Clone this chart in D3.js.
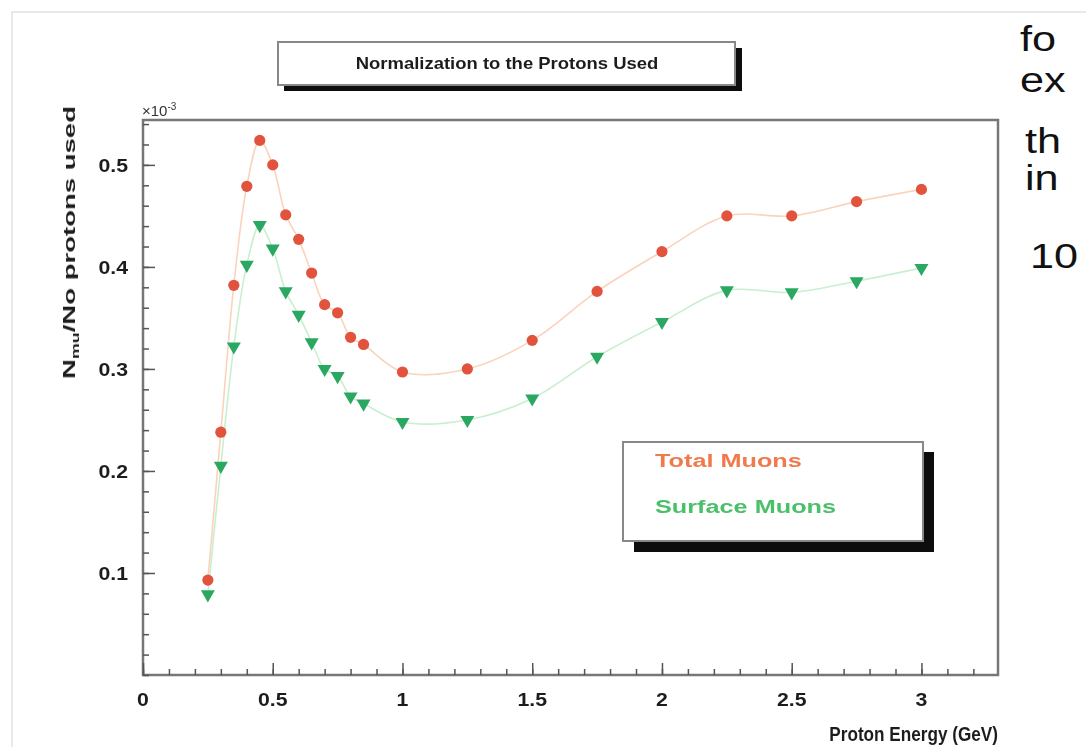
<!DOCTYPE html>
<html>
<head>
<meta charset="utf-8">
<script src="https://cdn.jsdelivr.net/npm/d3@7"></script>
<style>
  html, body { margin: 0; padding: 0; background: #fff; overflow: hidden; }
  svg { display: block; }
</style>
</head>
<body>
<svg id="drawing_region"></svg>
<script>
// proton energy (GeV)
const energies = [0.25, 0.3, 0.35, 0.4, 0.45, 0.5, 0.55, 0.6, 0.65, 0.7, 0.75, 0.8, 0.85,
                  1.0, 1.25, 1.5, 1.75, 2.0, 2.25, 2.5, 2.75, 3.0];
// N_mu / No protons used (x10^-3)
const totalMuons = [0.093, 0.238, 0.382, 0.479, 0.524, 0.500, 0.451, 0.427, 0.394, 0.363, 0.355, 0.331, 0.324,
                    0.297, 0.300, 0.328, 0.376, 0.415, 0.450, 0.450, 0.464, 0.476];
const surfaceMuons = [0.079, 0.205, 0.322, 0.402, 0.441, 0.418, 0.376, 0.353, 0.326, 0.300, 0.293, 0.273, 0.266,
                      0.248, 0.250, 0.271, 0.312, 0.346, 0.377, 0.375, 0.386, 0.399];
const xTicks = [0, 0.5, 1, 1.5, 2, 2.5, 3];
const yTicks = [0.1, 0.2, 0.3, 0.4, 0.5];
const sideText = ["fo", "ex", "th", "in", "10"];

const config = {
    width: 1086,
    height: 747,
    frame: { left: 143, right: 998, top: 120, bottom: 675 }
};
const FONT = 'Liberation Sans, Arial, sans-serif';

const svg = d3.select('#drawing_region')
    .attr('width', config.width)
    .attr('height', config.height);

svg.append('defs').append('filter').attr('id', 'soft')
    .append('feGaussianBlur').attr('stdDeviation', 0.5);

// faint outer border of the slide picture
svg.append('rect')
    .attr('x', 12).attr('y', 12)
    .attr('width', 1200).attr('height', 900)
    .attr('fill', 'none')
    .attr('stroke', '#e2e2e2')
    .attr('stroke-width', 1.5);

const g = svg.append('g').attr('filter', 'url(#soft)');
const f = config.frame;

const xscale = d3.scaleLinear().domain([0, 3.295]).range([f.left, f.right]);
const yscale = d3.scaleLinear().domain([0, 0.544]).range([f.bottom, f.top]);

// text that is a bit wider than the font (the picture was stretched)
function label(parent, x, y, txt, size, sx, anchor, color) {
    return parent.append('text')
        .attr('transform', `translate(${x}, ${y}) scale(${sx}, 1)`)
        .attr('text-anchor', anchor || 'start')
        .attr('font-family', FONT)
        .attr('font-weight', 'bold')
        .attr('font-size', size)
        .attr('fill', color || '#1e1e1e')
        .text(txt);
}

// title box with shadow
g.append('rect').attr('x', 284).attr('y', 48).attr('width', 458).attr('height', 43).attr('fill', '#111');
g.append('rect').attr('x', 278).attr('y', 42).attr('width', 457).attr('height', 43)
    .attr('fill', '#fff').attr('stroke', '#888').attr('stroke-width', 2);
label(g, 507, 69, 'Normalization to the Protons Used', 16.5, 1.12, 'middle');

// frame
g.append('rect')
    .attr('x', f.left).attr('y', f.top)
    .attr('width', f.right - f.left).attr('height', f.bottom - f.top)
    .attr('fill', '#fff').attr('stroke', '#777').attr('stroke-width', 2.5);

// axes (ROOT style: ticks inside)
const xMinor = d3.range(0, 3.3, 0.1);
const yMinor = d3.range(0, 0.545, 0.02);

const xaxis = d3.axisTop(xscale).tickValues(xTicks).tickSize(12).tickFormat('');
const xaxisMinor = d3.axisTop(xscale).tickValues(xMinor).tickSize(6).tickFormat('');
const yaxis = d3.axisRight(yscale).tickValues(yTicks).tickSize(12).tickFormat('');
const yaxisMinor = d3.axisRight(yscale).tickValues(yMinor).tickSize(6).tickFormat('');

[xaxis, xaxisMinor].forEach(ax => {
    g.append('g').attr('transform', `translate(0, ${f.bottom})`).call(ax)
        .call(s => s.select('.domain').remove())
        .selectAll('line').attr('stroke', '#555').attr('stroke-width', 1.5);
});
[yaxis, yaxisMinor].forEach(ax => {
    g.append('g').attr('transform', `translate(${f.left}, 0)`).call(ax)
        .call(s => s.select('.domain').remove())
        .selectAll('line').attr('stroke', '#555').attr('stroke-width', 1.5);
});

// tick labels
xTicks.forEach(d => label(g, xscale(d), 706, String(d), 19, 1.12, 'middle'));
yTicks.forEach(d => label(g, 128, yscale(d) + 7, d.toFixed(1), 19, 1.12, 'end'));

// x10^-3
const expo = g.append('text')
    .attr('x', 142).attr('y', 116)
    .attr('font-family', FONT)
    .attr('font-size', 15).attr('fill', '#333');
expo.append('tspan').text('\u00d710');
expo.append('tspan').attr('dy', -6).attr('font-size', 10).text('-3');

// axis titles
label(g, 998, 741, 'Proton Energy (GeV)', 19.5, 0.88, 'end');

const ylab = g.append('text')
    .attr('transform', 'translate(75, 106) rotate(-90) scale(1.62, 1)')
    .attr('text-anchor', 'end')
    .attr('font-family', FONT)
    .attr('font-weight', 'bold').attr('font-size', 17).attr('fill', '#1e1e1e');
ylab.append('tspan').text('N');
ylab.append('tspan').attr('dy', 4).attr('font-size', 11).text('mu');
ylab.append('tspan').attr('dy', -4).text('/No protons used');

// series
const total = energies.map((e, i) => ({ x: e, y: totalMuons[i] }));
const surface = energies.map((e, i) => ({ x: e, y: surfaceMuons[i] }));

const line = d3.line().x(d => xscale(d.x)).y(d => yscale(d.y)).curve(d3.curveCatmullRom.alpha(0.5));

g.append('path').datum(total).attr('d', line)
    .attr('fill', 'none').attr('stroke', '#fbd3bd').attr('stroke-width', 1.6);
g.append('path').datum(surface).attr('d', line)
    .attr('fill', 'none').attr('stroke', '#c9efcf').attr('stroke-width', 1.6);

g.append('g').selectAll('circle').data(total).join('circle')
    .attr('cx', d => xscale(d.x)).attr('cy', d => yscale(d.y))
    .attr('r', 5.6).attr('fill', '#e2533e');

const tri = d3.symbol().type(d3.symbolTriangle).size(85);
g.append('g').selectAll('path').data(surface).join('path')
    .attr('d', tri)
    .attr('transform', d => `translate(${xscale(d.x)}, ${yscale(d.y)}) rotate(180)`)
    .attr('fill', '#2aa862');

// legend with shadow
g.append('rect').attr('x', 634).attr('y', 452).attr('width', 300).attr('height', 100).attr('fill', '#111');
g.append('rect').attr('x', 623).attr('y', 442).attr('width', 300).attr('height', 99)
    .attr('fill', '#fff').attr('stroke', '#888').attr('stroke-width', 2);
label(g, 655, 467, 'Total Muons', 19, 1.33, 'start', '#f07a4c');
label(g, 655, 513, 'Surface Muons', 19, 1.33, 'start', '#4cc06a');

// slide text cut off at the right edge
const sideX = [1020, 1020, 1025, 1025, 1030];
const sideY = [51, 92, 153, 190, 268];
sideText.forEach((t, i) => {
    svg.append('text')
        .attr('transform', `translate(${sideX[i]}, ${sideY[i]}) scale(1.2, 1)`)
        .attr('font-family', FONT)
        .attr('font-size', 36).attr('fill', '#111')
        .text(t);
});
</script>
</body>
</html>
